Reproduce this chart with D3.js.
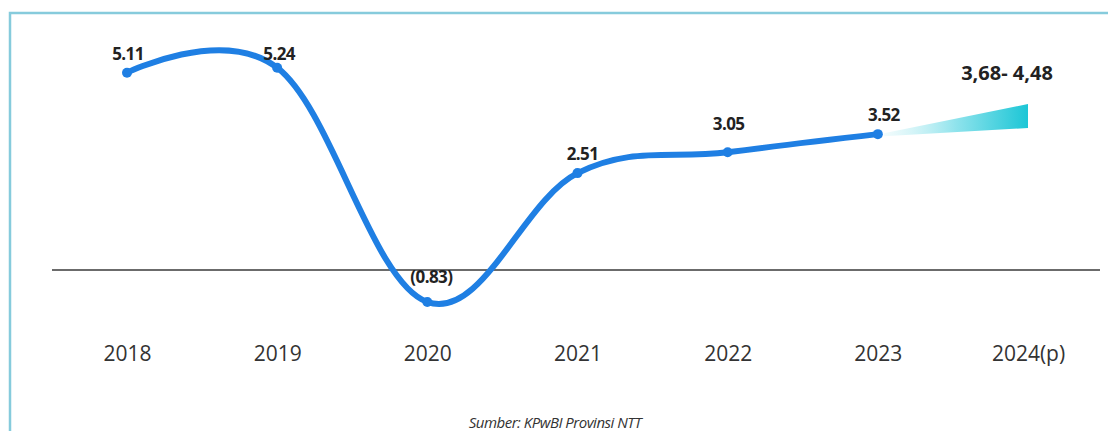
<!DOCTYPE html>
<html><head><meta charset="utf-8">
<script src="https://cdn.jsdelivr.net/npm/d3@7"></script>
<style>body{margin:0;background:#fff}svg{display:block}</style>
</head><body>
<svg id="c" width="1108" height="431"></svg>
<script>
const years = ["2018","2019","2020","2021","2022","2023","2024(p)"];
const growth = [5.11, 5.24, -0.83, 2.51, 3.05, 3.52];
const valueLabels = ["5.11","5.24","(0.83)","2.51","3.05","3.52"];
const projLow = 3.68, projHigh = 4.48;
const projLabel = "3,68- 4,48";
const source = "Sumber: KPwBI Provinsi NTT";

const svg = d3.select("#c");

const x = d3.scalePoint().domain(years).range([127, 1028]);
const y = d3.scaleLinear().domain([0, 5]).range([270, 77]);

// frame
svg.append("rect").attr("x",10).attr("y",13).attr("width",1120).attr("height",440)
  .attr("fill","none").attr("stroke","#86cbdc").attr("stroke-width",2.5);

// zero line
svg.append("line").attr("x1",52).attr("x2",1100).attr("y1",y(0)).attr("y2",y(0))
  .attr("stroke","#3a3a3a").attr("stroke-width",1.6);

// projection wedge
const defs = svg.append("defs");
const g = defs.append("linearGradient").attr("id","pg").attr("x1","0").attr("x2","1").attr("y1","0").attr("y2","0");
g.append("stop").attr("offset","0").attr("stop-color","#e4f8fa").attr("stop-opacity",0.5);
g.append("stop").attr("offset","0.5").attr("stop-color","#8fe3ec");
g.append("stop").attr("offset","1").attr("stop-color","#1cc6d6");
const x0 = x("2023"), x1 = x("2024(p)");
svg.append("path")
  .attr("d", `M${x0+6},${y(growth[5])-1} L${x1},${y(projHigh)+7} L${x1},${y(projLow)} L${x0+6},${y(growth[5])+2} Z`)
  .attr("fill","url(#pg)");

// line
const pts = growth.map((v,i)=>[x(years[i]), y(v)]);
svg.append("path").datum(pts)
  .attr("d", d3.line().curve(d3.curveCardinal.tension(-0.1)))
  .attr("fill","none").attr("stroke","#1f7fe3").attr("stroke-width",6).attr("stroke-linecap","round");
svg.selectAll("circle.pt").data(pts).join("circle")
  .attr("cx",d=>d[0]).attr("cy",d=>d[1]).attr("r",5).attr("fill","#1f7fe3");

// value labels
const offs = [[1,-13],[2,-8],[4,-19],[5,-13],[1,-22],[6,-13]];
svg.selectAll("text.v").data(growth).join("text")
  .attr("x",(d,i)=>x(years[i])+offs[i][0]).attr("y",(d,i)=>y(d)+offs[i][1])
  .attr("text-anchor","middle").attr("font-family","Open Sans, sans-serif")
  .attr("font-weight","bold").attr("font-size",17).attr("fill","#222")
  .attr("letter-spacing","-0.6")
  .text((d,i)=>valueLabels[i]);

svg.append("text").attr("x",x1-21).attr("y",y(projHigh)-17)
  .attr("text-anchor","middle").attr("font-family","Open Sans, sans-serif")
  .attr("font-weight","bold").attr("font-size",20).attr("fill","#222").text(projLabel);

// x axis labels
const ax = svg.append("g").attr("transform","translate(0,346)")
  .call(d3.axisBottom(x).tickSize(0).tickPadding(0));
ax.select(".domain").remove();
ax.selectAll("text").attr("font-family","Open Sans, sans-serif").attr("font-size",21)
  .attr("fill","#333");

svg.append("text").attr("x",555).attr("y",428).attr("text-anchor","middle")
  .attr("font-family","Open Sans, sans-serif").attr("font-style","italic")
  .attr("font-size",15).attr("fill","#333").attr("letter-spacing","-0.5").text(source);
</script>
</body></html>
